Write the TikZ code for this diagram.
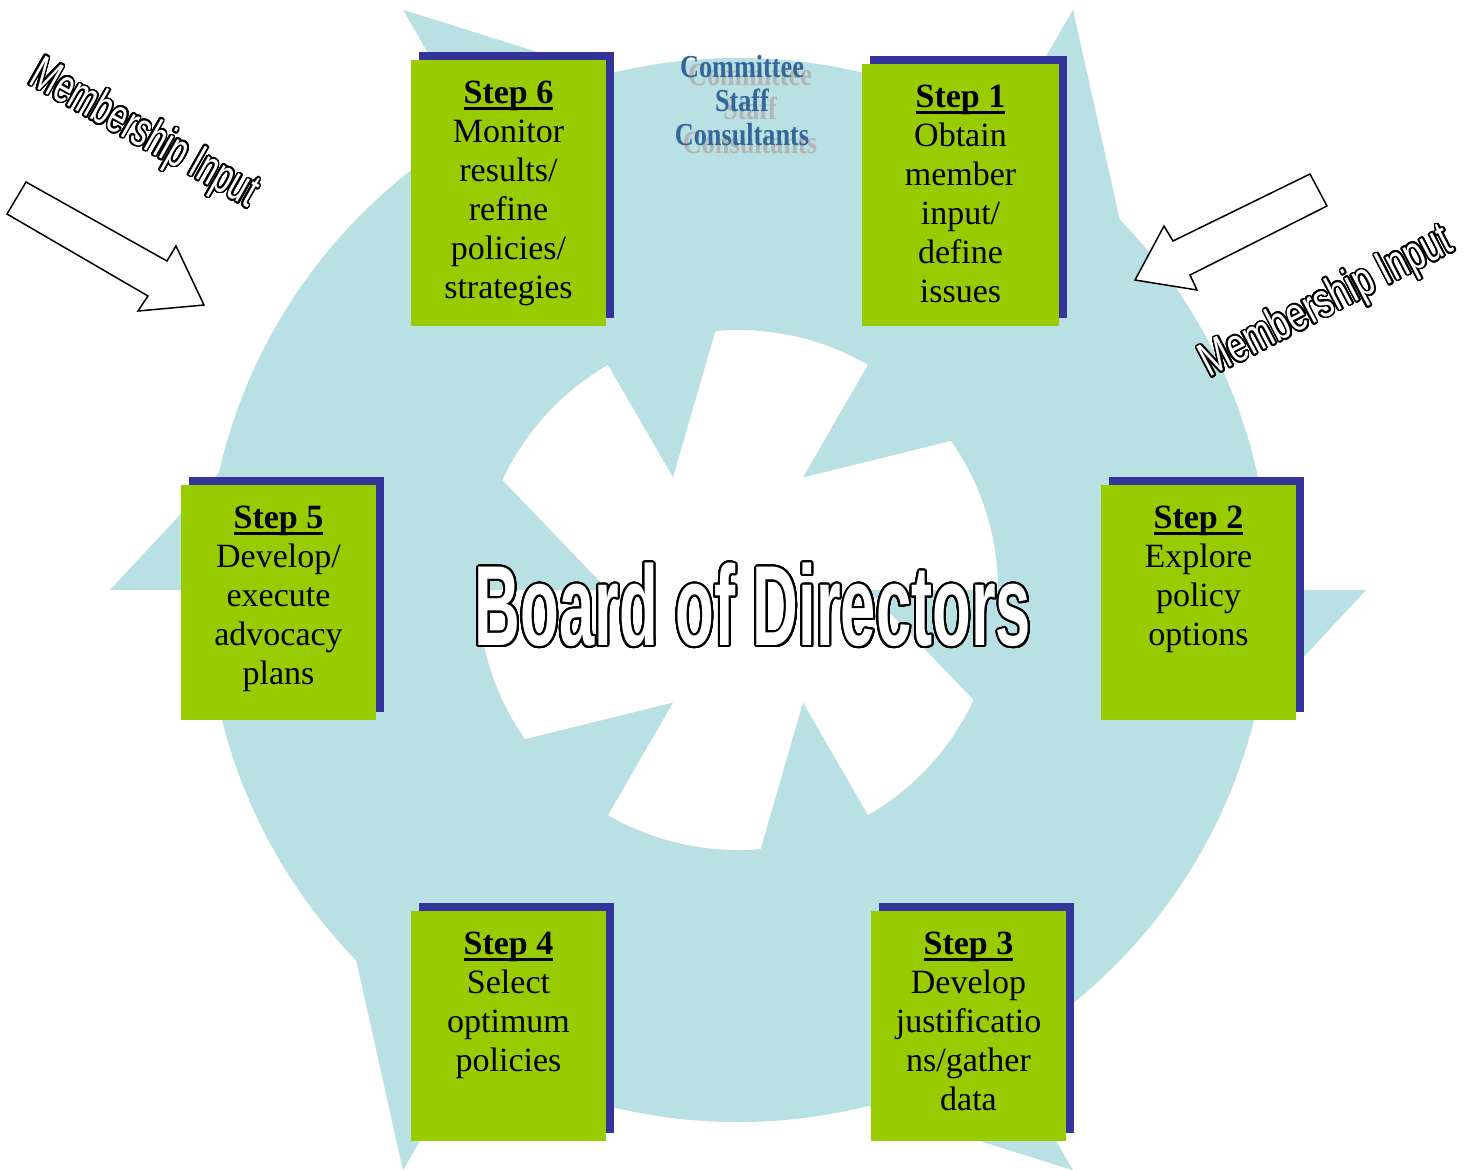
\documentclass[tikz,border=0pt]{standalone}
\usepackage{fontspec}
\setmainfont{Liberation Serif}
\newfontfamily\headfont{Liberation Sans}
\usepackage[copies]{contour}
\usepackage{graphicx}
\usetikzlibrary{calc,shadows}

\definecolor{ringblue}{RGB}{185,224,227}
\definecolor{stepgreen}{RGB}{153,204,0}
\definecolor{stepnavy}{RGB}{51,51,153}
\definecolor{teamblue}{RGB}{51,102,153}
\definecolor{teamshade}{RGB}{180,180,180}

% bold, heavily underlined step heading
\newcommand\steptitle[1]{{\bfseries\setbox0=\hbox{#1}\rlap{\copy0}\rule[-2.8pt]{\wd0}{1.5pt}}}
% white letters with a black outline
\newcommand\hollowtext[3]{{\color{white}\contourlength{#1}\contour{black}{\scalebox{#2}[1]{#3}}}}
\contournumber{32}

\begin{document}
\begin{tikzpicture}[x=0.5pt,y=-0.5pt,
  stepbox/.style={rectangle, fill=stepgreen, inner sep=0pt, outer sep=0pt,
    general shadow={fill=stepnavy, shadow xshift=4pt, shadow yshift=4pt}},
  steptext/.style={anchor=north, align=center, inner sep=0pt,
    font=\fontsize{17}{19.5}\selectfont},
  teamtext/.style={inner sep=0pt, font=\bfseries\fontsize{16}{17}\selectfont},
  inputtext/.style={inner sep=0pt, anchor=base},
  inarrow/.style={fill=white, draw=black, line width=0.75pt, line join=miter}]

\useasboundingbox (0,0) rectangle (1484,1169);
\fill[white] (0,0) rectangle (1484,1169);

% ring of six arrows
\coordinate (hub) at (738,590);
\fill[ringblue, even odd rule] (hub) circle[radius=532] (hub) circle[radius=260];
\foreach \t/\ro in {60/670,0/628,-60/670,-120/670,180/628,120/670}
  \fill[ringblue] ({738+130*cos(\t)},{590-130*sin(\t)})
    -- ({738+\ro*cos(\t)},{590-\ro*sin(\t)})
    -- ({738+465*cos(\t-34.5)},{590-465*sin(\t-34.5)}) -- cycle;

% committee / staff / consultants
\node[teamtext, text=teamshade] (teamshadow) at (750,113)
  {\scalebox{0.82}[1]{\setlength\tabcolsep{0pt}\begin{tabular}{c}Committee\\Staff\\Consultants\end{tabular}}};
\node[teamtext, text=teamblue] (team) at (742,105)
  {\scalebox{0.82}[1]{\setlength\tabcolsep{0pt}\begin{tabular}{c}Committee\\Staff\\Consultants\end{tabular}}};

% step boxes
\node[stepbox, minimum width=97.5pt, minimum height=133pt] (s6) at (508.5,193) {};
\node[stepbox, minimum width=98.5pt, minimum height=131pt] (s1) at (960.5,195) {};
\node[stepbox, minimum width=97.5pt, minimum height=117.5pt] (s5) at (278.5,602.5) {};
\node[stepbox, minimum width=97.5pt, minimum height=117.5pt] (s2) at (1198.5,602.5) {};
\node[stepbox, minimum width=97.5pt, minimum height=115pt] (s4) at (508.5,1026) {};
\node[stepbox, minimum width=97.5pt, minimum height=115pt] (s3) at (968.5,1026) {};

\node[steptext] (t6) at ($(s6.north)+(0,-10.5pt)$)
  {\steptitle{Step 6}\\Monitor\\results/\\refine\\policies/\\strategies};
\node[steptext] (t1) at ($(s1.north)+(0,-10.5pt)$)
  {\steptitle{Step 1}\\Obtain\\member\\input/\\define\\issues};
\node[steptext] (t5) at ($(s5.north)+(0,-10.5pt)$)
  {\steptitle{Step 5}\\Develop/\\execute\\advocacy\\plans};
\node[steptext] (t2) at ($(s2.north)+(0,-10.5pt)$)
  {\steptitle{Step 2}\\Explore\\policy\\options};
\node[steptext] (t4) at ($(s4.north)+(0,-10.5pt)$)
  {\steptitle{Step 4}\\Select\\optimum\\policies};
\node[steptext] (t3) at ($(s3.north)+(0,-10.5pt)$)
  {\steptitle{Step 3}\\Develop\\justificatio\\ns/gather\\data};

% centre title
\node[inner sep=0pt] (board) at (753,606)
  {\hollowtext{1pt}{0.556}{\headfont\bfseries\fontsize{57}{60}\selectfont Board of Directors}};

% membership input labels and hollow arrows
\node[inputtext, rotate=-29.5] (mleft) at (137.5,145.5)
  {\hollowtext{0.8pt}{0.66}{\headfont\fontsize{24}{26}\selectfont Membership Input}};
\node[inputtext, rotate=27.5] (mright) at (1332.5,314)
  {\hollowtext{0.8pt}{0.72}{\headfont\fontsize{24}{26}\selectfont Membership Input}};

\draw[inarrow] (26,182) -- (167,261) -- (176,246) -- (204,305) -- (138,311) -- (148,296) -- (7,214) -- cycle;
\draw[inarrow] (1310,174) -- (1327,206) -- (1190,275) -- (1197,290) -- (1135,280) -- (1164,226) -- (1173,241) -- cycle;

\end{tikzpicture}
\end{document}
